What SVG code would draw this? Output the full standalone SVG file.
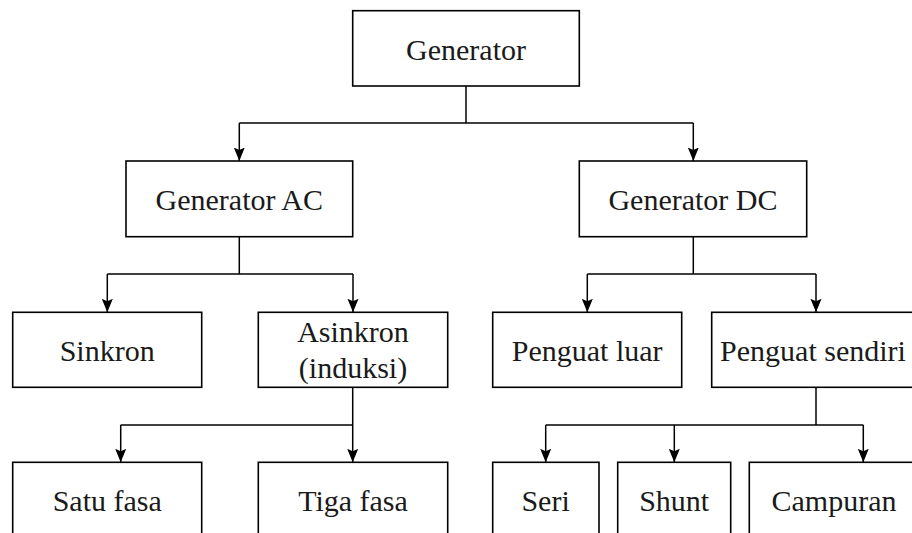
<svg xmlns="http://www.w3.org/2000/svg" width="912" height="533" viewBox="0 0 912 533">
<style>
.box{fill:#fff;stroke:#000;stroke-width:1.6}
.lbl{font-size:30px;fill:#1a1a1a;text-anchor:middle}
.ln{fill:none;stroke:#000;stroke-width:1.5}
</style>
<defs>
<marker id="ah" markerUnits="userSpaceOnUse" markerWidth="14" markerHeight="12" viewBox="0 0 14 12" refX="13.5" refY="6" orient="auto">
<path d="M13.5,6 L0,0.5 L2.5,6 L0,11.5 Z" fill="#000"/>
</marker>
</defs>
<rect width="912" height="533" fill="#fff"/>
<g id="connectors">
<path class="ln" d="M466,86 V123"/>
<path class="ln" d="M239.3,123 H693.3"/>
<path class="ln" d="M239.3,123 V161" marker-end="url(#ah)"/>
<path class="ln" d="M693.3,123 V161" marker-end="url(#ah)"/>
<path class="ln" d="M239.3,236.7 V274"/>
<path class="ln" d="M107.3,274 H353"/>
<path class="ln" d="M107.3,274 V312.3" marker-end="url(#ah)"/>
<path class="ln" d="M353,274 V312.3" marker-end="url(#ah)"/>
<path class="ln" d="M693.3,236.7 V274"/>
<path class="ln" d="M587.3,274 H816"/>
<path class="ln" d="M587.3,274 V312.3" marker-end="url(#ah)"/>
<path class="ln" d="M816,274 V312.3" marker-end="url(#ah)"/>
<path class="ln" d="M352.7,387.3 V425"/>
<path class="ln" d="M120.7,425 H352.7"/>
<path class="ln" d="M120.7,425 V462.3" marker-end="url(#ah)"/>
<path class="ln" d="M352.7,425 V462.3" marker-end="url(#ah)"/>
<path class="ln" d="M816,387.3 V425"/>
<path class="ln" d="M545.7,425 H863.3"/>
<path class="ln" d="M545.7,425 V462.3" marker-end="url(#ah)"/>
<path class="ln" d="M674.3,425 V462.3" marker-end="url(#ah)"/>
<path class="ln" d="M863.3,425 V462.3" marker-end="url(#ah)"/>
</g>
<g id="generator">
<rect class="box" x="352.7" y="10.7" width="226.6" height="75.3"/>
<text class="lbl" x="466" y="59.5" style="font-family:'Liberation Serif'">Generator</text>
</g>
<g id="generator-ac">
<rect class="box" x="126" y="161" width="226.7" height="75.7"/>
<text class="lbl" x="239.3" y="209.5" style="font-family:'Liberation Serif'">Generator AC</text>
</g>
<g id="generator-dc">
<rect class="box" x="579.3" y="161" width="227.4" height="75.7"/>
<text class="lbl" x="693" y="209.5" style="font-family:'Liberation Serif'">Generator DC</text>
</g>
<g id="sinkron">
<rect class="box" x="12.7" y="312.3" width="189" height="75"/>
<text class="lbl" x="107.2" y="361" style="font-family:'Liberation Serif'">Sinkron</text>
</g>
<g id="asinkron">
<rect class="box" x="258.3" y="312.3" width="189.4" height="75"/>
<text class="lbl" x="353" y="342.3" style="font-family:'Liberation Serif'">Asinkron</text>
<text class="lbl" x="353" y="377.5" style="font-family:'Liberation Serif'">(induksi)</text>
</g>
<g id="penguat-luar">
<rect class="box" x="492.7" y="312.3" width="189" height="75"/>
<text class="lbl" x="587.2" y="361" style="font-family:'Liberation Serif'">Penguat luar</text>
</g>
<g id="penguat-sendiri">
<rect class="box" x="711.7" y="312.3" width="210" height="75"/>
<text class="lbl" x="813" y="361" style="font-family:'Liberation Serif'">Penguat sendiri</text>
</g>
<g id="satu-fasa">
<rect class="box" x="12.7" y="462.3" width="189" height="80"/>
<text class="lbl" x="107.2" y="510.5" style="font-family:'Liberation Serif'">Satu fasa</text>
</g>
<g id="tiga-fasa">
<rect class="box" x="258.3" y="462.3" width="189.4" height="80"/>
<text class="lbl" x="353" y="510.5" style="font-family:'Liberation Serif'">Tiga fasa</text>
</g>
<g id="seri">
<rect class="box" x="492.7" y="462.3" width="106.3" height="80"/>
<text class="lbl" x="545.6" y="510.5" style="font-family:'Liberation Serif'">Seri</text>
</g>
<g id="shunt">
<rect class="box" x="617.7" y="462.3" width="113" height="80"/>
<text class="lbl" x="674.2" y="510.5" style="font-family:'Liberation Serif'">Shunt</text>
</g>
<g id="campuran">
<rect class="box" x="749.3" y="462.3" width="180" height="80"/>
<text class="lbl" x="834" y="510.5" style="font-family:'Liberation Serif'">Campuran</text>
</g>
</svg>
